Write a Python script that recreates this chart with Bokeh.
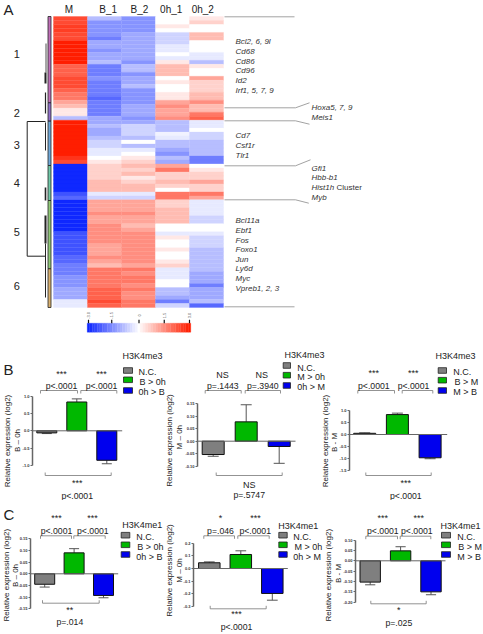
from math import pi
from bokeh.embed import file_html
from bokeh.resources import INLINE
from bokeh.layouts import column, row
from bokeh.models import (ColumnDataSource, FixedTicker, Label, LinearAxis, LinearColorMapper,
                          NumeralTickFormatter, Range1d)
from bokeh.plotting import figure
from bokeh.transform import transform

FONT = "Liberation Sans"

# ---------- heat map (values in tenths of the colour scale, one entry per row) ----------
heat_columns = ["M", "B_1", "B_2", "0h_1", "0h_2"]
heat_M = [8, 8, 8.5, 8.5, 8, 8, 10, 10, 10, 10, 10, 10, 7, 7, 7, 8, 8, 8, 7, 6, 6, 4, 3, 1, 1, -3,
          10, 10, 10, 10, 10, 10, 10, 10, 10, 9, 8, -10, -10, -10, -10, -10, -10, -10, -8, -7, -10, -10, -10, -10,
          -10, -10, -10, -10, -8, -8, -8, -8, -8, -8, -7, -7, -6, -6, -6, -5, -5, -5, -4, -4, -4, -1, -1]
heat_B1 = [-3, -5, -5, -5, -5, -6, -4, -4, -5, -4, -4, -3, -6, -6, -6, -5, -6, -6, -6, -6, -7, -6, -6, -6, -6, -4,
           -4, -3, -4, -4, -3, -2, -2, -1, -1, 0, 1, 2, 2, 2, 2, 3, 3, 3, -1, -2, 4, 4, 4, 5,
           4, 4, 5, 5, 5, 5, 5, 4, 4, 4, 5, 4, 3, 6, 6, 6, 6, 6, 7, 7, 7, 8, 7]
heat_B2 = [-5, -5, -5, -5, -4, -4, -4, -4, -4, -4, -4, -5, -3, -3, -5, -4, -4, -3, -5, -5, -5, -5, -4, -4, -4, -5,
           -4, -2, -2, -2, -3, 0, -3, -1, 0, 1, 2, 3, 2, 3, 1, 2, 3, 3, -1, -2, 4, 4, 4, 5,
           4, 4, 3, 4, 5, 5, 5, 5, 5, 5, 5, 5, 4, 6, 5, 6, 6, 5, 6, 5, 5, 6, 6]
heat_0h1 = [0, 0, 1, 0, -2, -2, -2, -1, -1, 0, -1, 1, 3, 3, 3, 0, 1, 0, 0, 1, 1, 4, 5, 4, 4, 5,
            -3, -3, -3, -0.5, -1, -3, -3, -4, -5, -3, -4, 4, 6, 2, 2, 3, 2, 0, 6, 6, 2, 2, 3, 3,
            3, 3, 0, 0, -1, 1, 0, 0, 1, 0, 0, 1, 2, -1, -1, -1, 0, 0, -3, -3, -4, -6, -2]
heat_0h2 = [1, 2, 0, 0, 3, 3, 0, 0, 0, -1, -1, -3, 1, 0, 0, 4, 2, 2, 2, 3, 3, 5, 3, 3, 6, 7,
            -1, -1, 0, -2, -2, -3, -3, -3, -3, -6, -6, 0, 1, 2, 2, 4, 2, 2, 6, 4, -1, -1, -1, -1,
            -2, -2, 0, 0, -1, -2, -2, -2, -3, -3, -3, -3, -3, -3, -4, -4, -4, -6, -4, -4, -4, -3, -7]
scale_steps = [v / 2 for v in range(-20, 21)]
scale_tick_values = [-10, -5.4, 0, 5, 10]
scale_tick_labels = ["-3.0", "-1.5", "0", "1.5", "3.0"]

cluster_names = ["1", "2", "3", "4", "5", "6"]
cluster_colors = ["#c070b8", "#9070c8", "#70a8d8", "#70c8a8", "#90c878", "#d8b070"]
genes_1 = ["Bcl2, 6, 9l", "Cd68", "Cd86", "Cd96", "Id2", "Irf1, 5, 7, 9"]
genes_2 = ["Hoxa5, 7, 9", "Meis1"]
genes_3 = ["Cd7", "Csf1r", "Tlr1"]
genes_4 = ["Gfi1", "Hbb-b1", "Hist1h", "Myb"]
genes_5 = ["Bcl11a", "Ebf1", "Fos", "Foxo1", "Jun", "Ly6d", "Myc", "Vpreb1, 2, 3"]

# ---------- bar panels ----------
b1_values = [-0.06, 0.83, -0.85]
b1_errors = [-0.08, 0.92, -0.95]
b2_values = [-0.053, 0.077, -0.021]
b2_errors = [-0.06, 0.145, -0.088]
b3_values = [0.05, 0.83, -0.97]
b3_errors = [0.07, 0.89, -1.01]
c1_values = [-0.045, 0.09, -0.093]
c1_errors = [-0.057, 0.108, -0.103]
c2_values = [0.045, 0.11, -0.196]
c2_errors = [0.052, 0.139, -0.249]
c3_values = [-0.103, 0.048, -0.15]
c3_errors = [-0.116, 0.068, -0.164]
b1_ticks = [-1.0, -0.5, 0.0, 0.5, 1.0]
b2_ticks = [-0.10, -0.05, 0.0, 0.05, 0.10, 0.15]
b3_ticks = [-1.5, -1.0, -0.5, 0.0, 0.5, 1.0]
c1_ticks = [-0.15, -0.10, -0.05, 0.0, 0.05, 0.10, 0.15]
c2_ticks = [-0.3, -0.2, -0.1, 0.0, 0.1, 0.2]
c3_ticks = [-0.20, -0.15, -0.10, -0.05, 0.0, 0.05, 0.10]
bar_colors = ["#7f7f7f", "#00b800", "#0000ee"]


def txt(p, x, y, s, size, align="center", style="normal", angle=0, color="#222222"):
    p.add_layout(Label(x=x, y=y, x_range_name="px", y_range_name="px", text=s,
                       text_font=FONT, text_font_size=f"{size}px", text_font_style=style,
                       text_align=align, text_baseline="middle", angle=angle,
                       text_color=color))


def base_figure(x0, x1, y0, y1, left, xr, yr, margin=None):
    p = figure(width=x1 - x0, height=y1 - y0, output_backend="svg", toolbar_location=None,
               x_range=xr, y_range=yr, x_axis_location=None, y_axis_location=None,
               min_border_left=left, min_border_right=0, min_border_top=0, min_border_bottom=0,
               outline_line_color=None, background_fill_alpha=0, border_fill_alpha=0,
               margin=margin if margin else (0, 0, 0, 0))
    p.grid.visible = False
    p.extra_x_ranges = {"px": Range1d(x0 + left, x1)}
    p.extra_y_ranges = {"px": Range1d(y1, y0)}
    return p


# ---------- panel A ----------
def heatmap():
    X0, X1, Y0, Y1 = 0, 483, 0, 345
    cx0, cstep = 70.0, 34.0
    ry0, rstep = 16.0, 291.0 / len(heat_M)
    xr = Range1d((X0 - cx0) / cstep, (X1 - cx0) / cstep)
    yr = Range1d((Y1 - ry0) / rstep - 0.5, (Y0 - ry0) / rstep - 0.5)
    p = base_figure(X0, X1, Y0, Y1, 0, xr, yr)

    low = (15, 40, 255)
    high = (255, 30, 0)
    palette = []
    for k in range(-50, 51):
        t = abs(k) / 50
        e = high if k > 0 else low
        palette.append("#%02x%02x%02x" % tuple(round(255 + (c - 255) * t) for c in e))
    mapper = LinearColorMapper(palette=palette, low=-10, high=10)

    xs, ys, vals = [], [], []
    for ci, col in enumerate([heat_M, heat_B1, heat_B2, heat_0h1, heat_0h2]):
        for ri, v in enumerate(col):
            xs.append(ci)
            ys.append(ri)
            vals.append(v)
    src = ColumnDataSource(dict(x=xs, y=ys, v=vals))
    cm = transform("v", mapper)
    p.rect("x", "y", width=1, height=1, source=src, fill_color=cm, line_color=cm, line_width=0.3)

    for c, name in zip(range(5), heat_columns):
        txt(p, [68.3, 107.7, 139, 170.7, 202.3][c], 9, name, 10)

    # cluster side bar
    edges = [16, 102.3, 120.7, 165, 200, 268.3, 307]
    p.quad(left=47.5, right=50.5, bottom=edges[1:], top=edges[:-1], fill_color=cluster_colors,
           line_color="#222222", line_width=0.8, x_range_name="px", y_range_name="px")
    for name, y in zip(cluster_names, [53.3, 112.7, 144.7, 182.7, 231.3, 285]):
        txt(p, 16.3, y, name, 11)

    # dendrogram
    seg_x0 = [26.7, 26.7, 26.7, 45, 45, 45, 45, 45, 45, 45.5]
    seg_x1 = [26.7, 45, 45, 45, 45, 45, 45, 45, 45, 45.5]
    seg_y0 = [121, 121, 255.7, 92, 72, 122, 187, 215, 243, 43]
    seg_y1 = [255.7, 121, 255.7, 113, 83, 150, 200, 243, 297, 72]
    seg_w = [1, 1, 1, 1.2, 2, 1, 1.6, 2, 1, 0.8]
    p.segment(seg_x0, seg_y0, seg_x1, seg_y1, line_color="#222222", line_width=seg_w,
              x_range_name="px", y_range_name="px")

    # gene labels
    for g, y in zip(genes_1, [41.3, 51.3, 61, 70, 80, 89.7]):
        txt(p, 235, y, g, 8, "left", "italic", color="#333333")
    for g, y in zip(genes_3, [135, 145, 155]):
        txt(p, 235, y, g, 8, "left", "italic", color="#333333")
    for g, y in zip(genes_5, [220, 230, 239.7, 248.7, 258.7, 268.3, 278.3, 288.3]):
        txt(p, 235, y, g, 8, "left", "italic", color="#333333")
    for g, y in zip(genes_2, [107, 117]):
        txt(p, 311, y, g, 8, "left", "italic", color="#333333")
    for g, y in zip(genes_4, [167.7, 177.3, 187.3, 196.7]):
        txt(p, 311, y, g, 8, "left", "italic", color="#333333")
    txt(p, 336, 187.3, "Cluster", 8, "left", color="#333333")

    # leader lines
    lx0 = [224, 224, 295, 224, 295, 224, 295, 224, 295, 224]
    lx1 = [294, 295, 309, 295, 309, 295, 310, 295, 308.3, 294]
    ly0 = [16.3, 107.3, 107.3, 120.3, 120.3, 165.3, 165.3, 199.3, 199.3, 306.3]
    ly1 = [16.3, 107.3, 102.3, 120.3, 123.7, 165.3, 159.3, 199.3, 202.7, 306.3]
    p.segment(lx0, ly0, lx1, ly1, line_color="#8a8a8a", line_width=0.8,
              x_range_name="px", y_range_name="px")

    # colour scale
    sx0, sx1 = 88.0, 189.0
    w = (sx1 - sx0) / (len(scale_steps) - 1)
    s2 = ColumnDataSource(dict(x=[sx0 + (v + 10) * (sx1 - sx0) / 20 for v in scale_steps],
                               y=[327.2] * len(scale_steps), v=scale_steps))
    p.rect("x", "y", width=w, height=9, source=s2, fill_color=cm, line_color=cm, line_width=0.3,
           x_range_name="px", y_range_name="px")
    tx = [sx0 + (v + 10) * (sx1 - sx0) / 20 for v in scale_tick_values]
    p.segment(tx, [319.3] * 5, tx, [322.7] * 5, line_color="#111111", line_width=1.2,
              x_range_name="px", y_range_name="px")
    for x, s in zip(tx, scale_tick_labels):
        txt(p, x, 315, s, 4, angle=pi / 2, color="#555555")
    txt(p, 8, 8.5, "A", 15)
    return p


# ---------- panels B and C ----------
def bars(rect, axis_x, cal, centers, bar_w, values, errors, ticks, fmt, zero_end,
         sig, brackets, bottom, title, leg_sw, leg_txt, rel, sub, letter=None, margin=None):
    X0, X1, Y0, Y1 = rect
    y_zero, ppu = cal
    c0, step = centers
    ax_px = int(round(axis_x))
    strip_w = ax_px - X0
    xr = Range1d((ax_px - c0) / step, (X1 - c0) / step)
    yr = Range1d((y_zero - Y1) / ppu, (y_zero - Y0) / ppu)

    # transparent strip left of the axis: it holds the rotated texts
    strip = base_figure(X0, ax_px, Y0, Y1, 0, Range1d(X0, ax_px), Range1d(Y1, Y0), margin)
    rx, ry = rel
    txt(strip, rx, ry, "Relative expression (log2)", 8, angle=pi / 2)
    sbx, sby, sbs = sub
    txt(strip, sbx, sby, sbs, 8, angle=pi / 2)
    if letter:
        txt(strip, letter[0], letter[1], letter[2], 15)

    p = base_figure(X0, X1, Y0, Y1, strip_w, xr, yr, (0, 0, 0, -strip_w))

    ax = LinearAxis(ticker=FixedTicker(ticks=ticks), formatter=NumeralTickFormatter(format=fmt),
                    bounds=(min(ticks), max(ticks)), axis_line_color="#666666", axis_line_width=1.5,
                    major_tick_line_color="#666666", major_tick_line_width=1.2,
                    major_tick_out=2, major_tick_in=0, minor_tick_line_color=None,
                    major_label_text_font=FONT, major_label_text_font_size="4px",
                    major_label_text_font_style="bold", major_label_text_color="#333333",
                    major_label_standoff=1)
    p.add_layout(ax, "left")

    idx = list(range(len(values)))
    w = bar_w / step
    # error bars
    p.segment(idx, values, idx, errors, line_color="#555555", line_width=1)
    p.segment([i - w * 0.25 for i in idx], errors, [i + w * 0.25 for i in idx], errors,
              line_color="#555555", line_width=1)
    p.vbar(x=idx, top=values, bottom=0, width=w, fill_color=bar_colors, line_color="#111111", line_width=1)
    p.segment([axis_x], [0], [zero_end], [0], line_color="#666666", line_width=1, x_range_name="px")

    # upper significance notes
    for (x, y, s, size) in sig:
        txt(p, x, y, s, size)
    bx0, bx1, by = [b[0] for b in brackets], [b[1] for b in brackets], [b[2] for b in brackets]
    p.segment(bx0, by, bx1, by, line_color="#777777", line_width=0.8, x_range_name="px", y_range_name="px")
    p.segment(bx0, by, bx0, [y + 3 for y in by], line_color="#777777", line_width=0.8, x_range_name="px", y_range_name="px")
    p.segment(bx1, by, bx1, [y + 3 for y in by], line_color="#777777", line_width=0.8, x_range_name="px", y_range_name="px")
    # lower bracket
    bl0, bl1, bly = bottom
    p.segment([bl0, bl0, bl1], [bly, bly, bly], [bl1, bl0, bl1], [bly, bly - 3, bly - 3],
              line_color="#777777", line_width=0.8, x_range_name="px", y_range_name="px")

    # legend
    tx, ty, ts = title
    txt(p, tx, ty, ts, 9, "left")
    sx0, sx1, sy = leg_sw
    p.quad(left=[sx0] * 3, right=[sx1] * 3, top=[y - 2.8 for y in sy], bottom=[y + 2.8 for y in sy],
           fill_color=bar_colors, line_color="#222222", line_width=0.8, x_range_name="px", y_range_name="px")
    for (x, y, s) in leg_txt:
        txt(p, x, y, s, 9, "left")
    return strip, p


YB0, YB1, YC1 = 345, 500, 634
PX = "p<.0001"
PS = 8.7

b1 = bars((0, 172, YB0, YB1), 31.7, (430.3, 34.7), (46.3, 30), 20, b1_values, b1_errors, b1_ticks, "0.0", 121.7,
          [(61, 373, "***", 9), (101, 373, "***", 9), (61, 385, PX, PS), (101, 385, PX, PS),
           (76.7, 482, "***", 9), (76.7, 495, PX, PS)],
          [(40, 77, 390), (80.3, 116.3, 390)], (44.7, 110.7, 475),
          (122, 355, "H3K4me3"), (123, 132, [370, 379.3, 390]),
          [(138, 371, "N.C."), (139, 381, "B > 0h"), (138, 391, "0h > B")],
          (7.3, 440.5), (17.3, 440, "B – 0h"), letter=(8, 369, "B"))

b2 = bars((160, 338, YB0, YB1), 196.7, (440.7, 251.3), (212.7, 33), 22, b2_values, b2_errors, b2_ticks, "0.00", 295,
          [(222, 374.7, "NS", 9), (261.3, 374.7, "NS", 9), (222.3, 385.7, "p=.1443", PS), (262.3, 385.7, "p=.3940", PS),
           (248.7, 484, "NS", 9), (248.7, 494.7, "p=.5747", PS)],
          [(204.7, 240.7, 390), (244.7, 280, 390)], (215.7, 281.7, 475),
          (284, 354, "H3K4me3"), (282.7, 290, [365, 374.7, 385]),
          [(296.7, 367, "N.C."), (296.7, 376.7, "M > 0h"), (296.7, 386.7, "0h > M")],
          (169.3, 440), (179.3, 436.7, "M – 0h"), margin=(0, 0, 0, -12))

b3 = bars((318, 483, YB0, YB1), 349.3, (434, 24), (364.2, 32.7), 22, b3_values, b3_errors, b3_ticks, "0.0", 446.7,
          [(373.3, 372.7, "***", 9), (412.7, 372.7, "***", 9), (373.3, 385.7, PX, PS), (413, 385.7, PX, PS),
           (405.3, 482.3, "***", 9), (405.3, 495, PX, PS)],
          [(357.3, 394, 390), (401.7, 432.3, 390)], (365.3, 430.7, 475),
          (435, 355.3, "H3K4me3"), (437.7, 446, [370, 379.7, 390]),
          [(452.7, 371.3, "N.C."), (454, 381.3, "B > M"), (452.7, 391, "M > B")],
          (324.7, 440.5), (334, 442, "B - M"), margin=(0, 0, 0, -20))

c1 = bars((0, 172, YB1, YC1), 30, (573.3, 232.7), (44.2, 29.4), 20, c1_values, c1_errors, c1_ticks, "0.00", 117.7,
          [(56, 517.3, "***", 9), (92, 517.3, "***", 9), (56, 530.3, PX, PS), (92.3, 530.3, PX, PS),
           (69.3, 609, "**", 9), (69.3, 621.7, "p=.014", PS)],
          [(40, 71, 535.3), (73.3, 104.7, 535.3)], (42, 98.7, 602.7),
          (121.7, 524.3, "H3K4me1"), (120.7, 129.3, [534.7, 544.3, 554]),
          [(135.7, 536.3, "N.C."), (136.7, 546.7, "B > 0h"), (135.7, 556.3, "0h > B")],
          (5.7, 574.7), (15, 575, "B – 0h"), letter=(8.5, 514.3, "C"))

c2 = bars((160, 338, YB1, YC1), 193.3, (568, 127.3), (208.8, 31.5), 21.5, c2_values, c2_errors, c2_ticks, "0.0", 287.3,
          [(220, 517.3, "*", 9), (255, 517.3, "***", 9), (220, 530.3, "p=.046", PS), (254.7, 530.3, PX, PS),
           (236, 613.3, "***", 9), (236, 626.7, PX, PS)],
          [(203.3, 234, 535.3), (237.3, 268.7, 535.3)], (209.7, 265.7, 608.3),
          (277.7, 525, "H3K4me1"), (278.3, 286.7, [534.7, 544.3, 554]),
          [(292.7, 536.7, "N.C."), (294, 546.7, "M > 0h"), (292.7, 556, "0h > M")],
          (169.3, 570), (179.3, 570, "M – 0h"), margin=(0, 0, 0, -12))

c3 = bars((318, 483, YB1, YC1), 355, (560.3, 207), (369.7, 30.4), 20.4, c3_values, c3_errors, c3_ticks, "0.00", 445,
          [(382.3, 517.3, "***", 9), (418.3, 517.3, "***", 9), (382.3, 530.3, PX, PS), (416.3, 530.3, PX, PS),
           (398.3, 609, "*", 9), (398.3, 622, "p=.025", PS)],
          [(365.3, 397, 535.7), (399.7, 430.3, 535.7)], (370.3, 425.7, 603.3),
          (440, 525, "H3K4me1"), (441, 450, [534.7, 544.3, 554]),
          [(456.7, 536.3, "N.C."), (457.7, 546.7, "B > M"), (456.7, 556, "M > B")],
          (328.3, 574.7), (338.3, 573, "B - M"), margin=(0, 0, 0, -20))

page = column(heatmap(), row(*b1, *b2, *b3, spacing=0, margin=0), row(*c1, *c2, *c3, spacing=0, margin=0),
              spacing=0, margin=0)
open("out.html", "w").write(file_html(page, INLINE))
